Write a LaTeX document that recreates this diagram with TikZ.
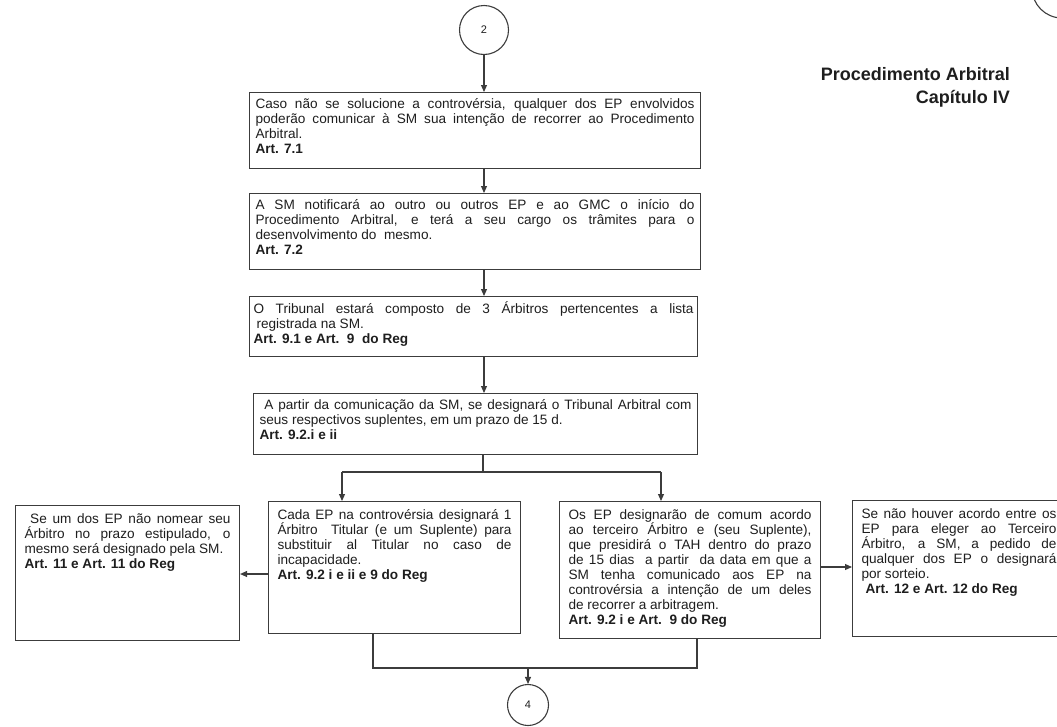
\documentclass[tikz,border=0pt]{standalone}
\usepackage{fontspec}
\setmainfont{Liberation Sans}
\usetikzlibrary{arrows.meta}
\definecolor{ink}{HTML}{1E1E1E}
\definecolor{rule}{HTML}{3C3C3C}
% fixed-size, top-aligned, justified text block for the flow boxes
\newcommand{\bxt}[3]{\parbox[c][#2pt][t]{#1pt}{\lineskiplimit=-20pt\lineskip=0pt\strut #3}}
\begin{document}
\begin{tikzpicture}[x=1pt,y=-1pt,
  txt/.style={font=\fontsize{13.6}{15}\selectfont, text=ink},
  stepbox/.style={txt, draw=rule, line width=1.1pt, anchor=north west, inner xsep=6pt, inner ysep=5pt},
  lowbox/.style={stepbox, inner xsep=9pt, inner ysep=7pt},
  conn/.style={circle, draw=rule, line width=1.1pt, text=ink, font=\fontsize{11}{13}\selectfont, inner sep=0pt},
  wire/.style={draw=rule, line width=1.1pt},
  arr/.style={wire, -{Triangle[length=7pt,width=6pt]}}]
\path[use as bounding box] (0,0) rectangle (1057,726);
\clip (0,0) rectangle (1057,726);

% page title
\node[anchor=north east, align=right, inner sep=0pt, text=ink, font=\bfseries\fontsize{18}{23}\selectfont] (title) at (1010,67)
  {Procedimento Arbitral\\Capítulo IV};

% off-page connectors
\node[conn, minimum size=60pt] (c0) at (1062,-12) {};
\node[conn, minimum size=49pt] (c2) at (484,30) {2};
\node[conn, minimum size=41pt] (c4) at (528,705) {4};

% main column
\node[stepbox] (b1) at (249,92) {\bxt{439}{66}{%
Caso não se solucione a controvérsia, qualquer dos EP envolvidos\linebreak
poderão comunicar à SM sua intenção de recorrer ao Procedimento\linebreak
Arbitral.\\
\textbf{Art. 7.1}}};

\node[stepbox] (b2) at (249,193) {\bxt{439}{66}{%
A SM notificará ao outro ou outros EP e ao GMC o início do\linebreak
Procedimento Arbitral, e terá a seu cargo os trâmites para o\linebreak
desenvolvimento do\ \ mesmo.\\
\textbf{Art. 7.2}}};

\node[stepbox, inner xsep=4pt] (b3) at (249,296) {\bxt{440}{50}{%
O Tribunal estará composto de 3 Árbitros pertencentes a lista\linebreak
\hspace*{3pt}registrada na SM.\\
\textbf{Art. 9.1 e Art.\ \ 9\ \ do Reg}}};

\node[stepbox] (b4) at (253,393) {\bxt{432}{51}{%
\ A partir da comunicação da SM, se designará o Tribunal Arbitral com\linebreak
seus respectivos suplentes, em um prazo de 15 d.\\
\textbf{Art. 9.2.i e ii}}};

% second row
\node[lowbox] (bL) at (15,505) {\bxt{206}{121}{%
\ Se um dos EP não nomear seu\linebreak
Árbitro no prazo estipulado, o\linebreak
mesmo será designado pela SM.\\
\textbf{Art. 11 e Art. 11 do Reg}}};

\node[lowbox] (b5) at (268,501) {\bxt{234}{118}{%
Cada EP na controvérsia designará 1\linebreak
Árbitro\ \ Titular (e um Suplente) para\linebreak
substituir al Titular no caso de\linebreak
incapacidade.\\
\textbf{Art. 9.2 i e ii e 9 do Reg}}};

\node[lowbox] (b6) at (559,501) {\bxt{243}{123}{%
Os EP designarão de comum acordo\linebreak
ao terceiro Árbitro e (seu Suplente),\linebreak
que presidirá o TAH dentro do prazo\linebreak
de 15 dias\ \ a partir\ \ da data em que a\linebreak
SM tenha comunicado aos EP na\linebreak
controvérsia a intenção de um deles\linebreak
de recorrer a arbitragem.\\
\textbf{Art. 9.2 i e Art.\ \ 9 do Reg}}};

\node[lowbox] (bR) at (852,500) {\bxt{195}{122}{%
Se não houver acordo entre os\linebreak
EP para eleger ao Terceiro\linebreak
Árbitro, a SM, a pedido de\linebreak
qualquer dos EP o designará\linebreak
por sorteio.\\
\hspace*{4pt}\textbf{Art. 12 e Art. 12 do Reg}}};

% main column connectors
\draw[arr] (c2.south) -- (c2.south |- b1.north);
\draw[arr] (b1.south -| c2) -- (c2 |- b2.north);
\draw[arr] (b2.south -| c2) -- (c2 |- b3.north);
\draw[arr] (b3.south -| c2) -- (c2 |- b4.north);

% split into the two appointment branches
\coordinate (split) at (483,472);
\coordinate (jL) at (342,472);
\coordinate (jR) at (661,472);
\draw[wire] (b4.south -| split) -- (split);
\draw[wire] (jL) -- (jR);
\draw[arr] (jL) -- (jL |- b5.north);
\draw[arr] (jR) -- (jR |- b6.north);

% side outcomes
\coordinate (aL) at (0,574);
\coordinate (aR) at (0,567);
\draw[arr] (b5.west |- aL) -- (bL.east |- aL);
\draw[arr] (b6.east |- aR) -- (bR.west |- aR);

% merge towards connector 4
\coordinate (mL) at (373,668);
\coordinate (mR) at (697,668);
\draw[wire] (mL |- b5.south) -- (mL) -- (mR) -- (mR |- b6.south);
\draw[arr] (c4 |- mL) -- (c4.north);
\end{tikzpicture}
\end{document}
